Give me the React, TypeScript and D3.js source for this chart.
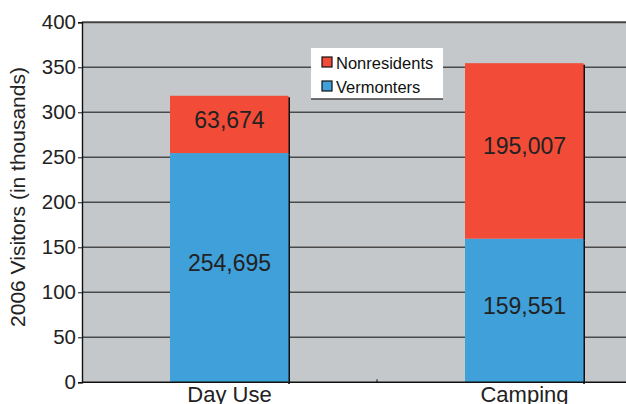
import { useEffect, useRef } from "react"
import * as d3 from "d3"

const categories = ["Day Use", "Camping"]
const vermonters = [254.695, 159.551]
const nonresidents = [63.674, 195.007]
const vermonterLabels = ["254,695", "159,551"]
const nonresidentLabels = ["63,674", "195,007"]
const yTicks = [0, 50, 100, 150, 200, 250, 300, 350, 400]
const seriesNames = ["Nonresidents", "Vermonters"]

const RED = "#f24b37"
const BLUE = "#3fa0da"
const FONT = "'Liberation Sans', Arial, sans-serif"

function App() {
    const ref = useRef<SVGSVGElement>(null)

    useEffect(() => {
        const svg = d3.select(ref.current)
        svg.selectAll("*").remove()

        const left = 82
        const right = 672
        const top = 22.3
        const bottom = 382.3

        const y = d3.scaleLinear().domain([0, 400]).range([bottom, top])
        const x = d3.scaleBand()
            .domain(categories)
            .range([left, right])
            .paddingInner(0.5966)
            .paddingOuter(0.2983)

        // Plot background
        svg.append("rect")
            .attr("x", left)
            .attr("y", top)
            .attr("width", right - left)
            .attr("height", bottom - top)
            .attr("fill", "#c4c8cb")

        // Gridlines
        svg.append("g")
            .selectAll("line")
            .data(yTicks.filter(d => d > 0))
            .enter()
            .append("line")
            .attr("x1", left)
            .attr("x2", right)
            .attr("y1", d => y(d))
            .attr("y2", d => y(d))
            .attr("stroke", d => d === 400 ? "#444" : "#4a4a4a")
            .attr("stroke-width", d => d === 400 ? 2 : 1.4)

        // Bars
        const stacks = categories.map((c, i) => [
            { cat: c, y0: 0, y1: vermonters[i], color: BLUE, label: vermonterLabels[i] },
            { cat: c, y0: vermonters[i], y1: vermonters[i] + nonresidents[i], color: RED, label: nonresidentLabels[i] },
        ]).flat()

        const bars = svg.append("g")
        // shadow
        bars.selectAll("rect.shadow")
            .data(stacks)
            .enter()
            .append("rect")
            .attr("class", "shadow")
            .attr("x", d => x(d.cat)! + x.bandwidth() - 1)
            .attr("y", d => y(d.y1) + 1.5)
            .attr("width", 2)
            .attr("height", d => y(d.y0) - y(d.y1))
            .attr("fill", "#111")

        bars.selectAll("rect.seg")
            .data(stacks)
            .enter()
            .append("rect")
            .attr("class", "seg")
            .attr("x", d => x(d.cat)!)
            .attr("y", d => y(d.y1))
            .attr("width", x.bandwidth() - 0.5)
            .attr("height", d => y(d.y0) - y(d.y1))
            .attr("fill", d => d.color)

        bars.selectAll("text")
            .data(stacks)
            .enter()
            .append("text")
            .attr("x", d => x(d.cat)! + x.bandwidth() / 2)
            .attr("y", d => (y(d.y0) + y(d.y1)) / 2 + 3.5)
            .attr("text-anchor", "middle")
            .attr("font-family", FONT)
            .attr("font-size", 23)
            .attr("fill", "#222")
            .text(d => d.label)

        // Axes
        const yAxis = svg.append("g")
            .attr("transform", `translate(${left},0)`)
            .call(d3.axisLeft(y).tickValues(yTicks).tickSize(4).tickPadding(2))
        yAxis.select(".domain").attr("stroke", "#111").attr("stroke-width", 1.4)
        yAxis.selectAll(".tick line").attr("stroke", "#111")
        yAxis.selectAll("text")
            .attr("font-family", FONT)
            .attr("font-size", 20.5)
            .attr("fill", "#222")

        svg.append("line")
            .attr("x1", left)
            .attr("x2", right)
            .attr("y1", bottom)
            .attr("y2", bottom)
            .attr("stroke", "#111")
            .attr("stroke-width", 1.6)

        svg.append("line")
            .attr("x1", left + x.step())
            .attr("x2", left + x.step())
            .attr("y1", bottom)
            .attr("y2", bottom - 3)
            .attr("stroke", "#111")

        svg.append("g")
            .selectAll("text")
            .data(categories)
            .enter()
            .append("text")
            .attr("x", d => x(d)! + x.bandwidth() / 2)
            .attr("y", 402)
            .attr("text-anchor", "middle")
            .attr("font-family", FONT)
            .attr("font-size", 22)
            .attr("fill", "#222")
            .text(d => d)

        // Y title
        svg.append("text")
            .attr("transform", `translate(25,197) rotate(-90)`)
            .attr("text-anchor", "middle")
            .attr("font-family", FONT)
            .attr("font-size", 21)
            .attr("fill", "#222")
            .text("2006 Visitors (in thousands)")

        // Legend
        const legend = svg.append("g").attr("transform", "translate(311,48)")
        legend.append("rect")
            .attr("width", 132)
            .attr("height", 51)
            .attr("fill", "white")
        legend.append("line")
            .attr("x1", 0)
            .attr("x2", 132)
            .attr("y1", 51)
            .attr("y2", 51)
            .attr("stroke", "#444")
            .attr("stroke-width", 1.4)

        const items = legend.selectAll("g.item")
            .data(seriesNames)
            .enter()
            .append("g")
            .attr("class", "item")
            .attr("transform", (d, i) => `translate(11,${9 + i * 24})`)
        items.append("rect")
            .attr("width", 10)
            .attr("height", 10)
            .attr("fill", (d, i) => i === 0 ? RED : BLUE)
            .attr("stroke", "#111")
            .attr("stroke-width", 1.2)
        items.append("text")
            .attr("x", 14)
            .attr("y", 11.5)
            .attr("font-family", FONT)
            .attr("font-size", 16.5)
            .attr("fill", "#111")
            .text(d => d)
    }, [])

    return (
        <svg ref={ref} width={626} height={404}
            style={{ position: "absolute", left: 0, top: 0, background: "white" }} />
    )
}

export default App
